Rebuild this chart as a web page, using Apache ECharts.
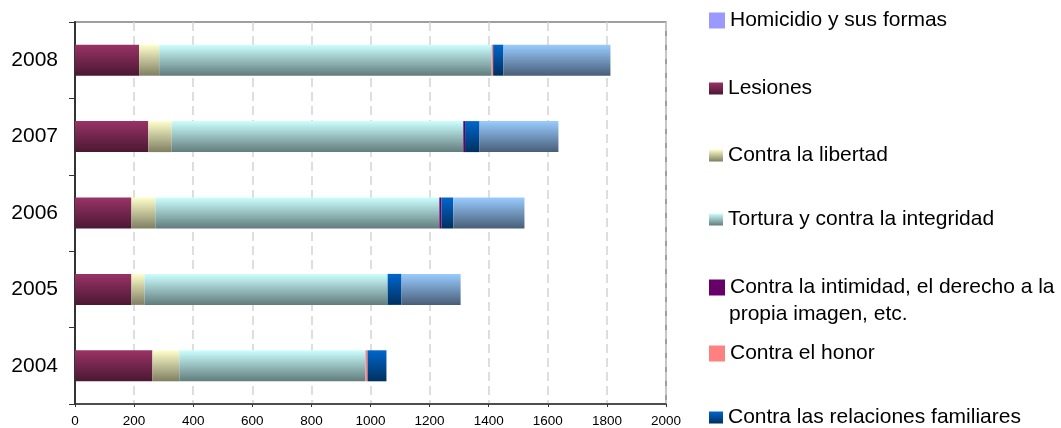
<!DOCTYPE html>
<html>
<head>
<meta charset="utf-8">
<script src="https://cdn.jsdelivr.net/npm/echarts@6/dist/echarts.min.js"></script>
<style>
  html, body { margin: 0; padding: 0; background: #fff; }
  #main { width: 1061px; height: 428px; }
</style>
</head>
<body>
<div id="main"></div>
<script>
// datos
var years = ['2004', '2005', '2006', '2007', '2008'];
var homicidio = [0, 0, 0, 0, 0];
var lesiones = [262, 191, 191, 248, 217];
var libertad = [91, 44, 81, 79, 68];
var tortura = [630, 823, 961, 987, 1125];
var intimidad = [0, 0, 7, 6, 0];
var honor = [7, 0, 0, 0, 5];
var familiares = [64, 47, 40, 49, 35];
var otros = [0, 200, 241, 267, 362];
var xTicks = [0, 200, 400, 600, 800, 1000, 1200, 1400, 1600, 1800, 2000];

var FONT = '"Liberation Sans", Arial, sans-serif';

function grad(top, bottom) {
  return new echarts.graphic.LinearGradient(0, 0, 0, 1, [
    { offset: 0, color: top },
    { offset: 1, color: bottom }
  ]);
}

var chart = echarts.init(document.getElementById('main'), null, { renderer: 'canvas' });

function serie(name, data, color) {
  return {
    name: name,
    type: 'bar',
    stack: 'total',
    barWidth: 31,
    data: data,
    itemStyle: { color: color },
    emphasis: { disabled: true }
  };
}

var series = [
  serie('Homicidio y sus formas', homicidio, '#9999FF'),
  serie('Lesiones', lesiones, grad('#993366', '#4a1832')),
  serie('Contra la libertad', libertad, grad('#FFFFCC', '#7f7f62')),
  serie('Tortura y contra la integridad', tortura, grad('#CCFFFF', '#627c7c')),
  serie('Contra la intimidad, el derecho a la propia imagen, etc.', intimidad, '#660066'),
  serie('Contra el honor', honor, '#FF8080'),
  serie('Contra las relaciones familiares', familiares, grad('#0066CC', '#00305f')),
  serie('Contra el patrimonio', otros, grad('#99CCFF', '#485e78'))
];

// una leyenda por elemento, para colocar cada uno donde está
var legendPos = [
  { name: 'Homicidio y sus formas', y: 22, big: true },
  { name: 'Lesiones', y: 90, big: false },
  { name: 'Contra la libertad', y: 157, big: false },
  { name: 'Tortura y contra la integridad', y: 221, big: false },
  { name: 'Contra la intimidad, el derecho a la propia imagen, etc.', y: 289, big: true },
  { name: 'Contra el honor', y: 355, big: true },
  { name: 'Contra las relaciones familiares', y: 419, big: false }
];

var legends = legendPos.map(function (l) {
  return {
    data: [l.name],
    left: 709,
    top: l.y - 12,
    padding: 0,
    icon: 'rect',
    itemWidth: l.big ? 16 : 14,
    itemHeight: l.big ? 16 : 12,
    itemGap: 0,
    selectedMode: false,
    formatter: function (n) {
      return n.indexOf('intimidad') >= 0 ? 'Contra la intimidad, el derecho a la' : n;
    },
    textStyle: { fontFamily: FONT, fontSize: 21, color: '#000', padding: [0, 0, 0, 0] }
  };
});

var option = {
  animation: false,
  backgroundColor: '#fff',
  legend: legends,
  graphic: [{
    type: 'text',
    left: 729,
    top: 304,
    style: { text: 'propia imagen, etc.', font: '21px ' + FONT, fill: '#000' }
  }],
  grid: {
    left: 75,
    right: 395,
    top: 22,
    bottom: 24,
    show: true,
    borderColor: '#808080',
    borderWidth: 1.5,
    backgroundColor: '#fff'
  },
  xAxis: {
    type: 'value',
    min: 0,
    max: 2000,
    interval: 200,
    axisLine: { show: true, lineStyle: { color: '#333', width: 1.5 } },
    axisTick: { show: true, length: 3, lineStyle: { color: '#333' } },
    axisLabel: {
      fontFamily: FONT, fontSize: 13.5, color: '#000', margin: 10,
      formatter: function (v) { return xTicks.indexOf(v) >= 0 ? String(v) : ''; }
    },
    splitLine: { show: true, lineStyle: { color: '#d4d4d4', type: [9, 5], width: 1.5 } }
  },
  yAxis: {
    type: 'category',
    data: years,
    axisLine: { show: true, lineStyle: { color: '#333', width: 2 } },
    axisTick: { show: true, length: 6, lineStyle: { color: '#333' } },
    axisLabel: { fontFamily: FONT, fontSize: 21, color: '#000', margin: 17 },
    splitLine: { show: false }
  },
  series: series
};

chart.setOption(option);
</script>
</body>
</html>
